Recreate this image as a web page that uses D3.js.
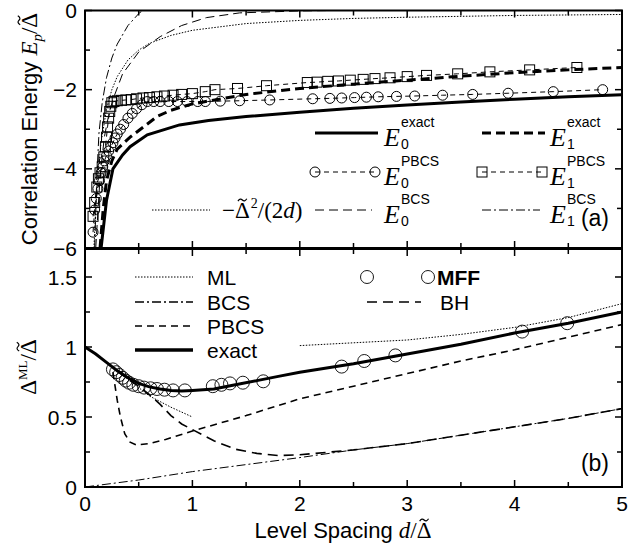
<!DOCTYPE html>
<html>
<head>
<meta charset="utf-8">
<script src="https://cdn.jsdelivr.net/npm/d3@7"></script>
<style>
  body { margin: 0; background: #fff; }
  svg { display: block; }
  text { font-family: "Liberation Sans", Arial, sans-serif; fill: #000; }
  .serif { font-family: "Liberation Serif", "Times New Roman", serif; }
</style>
</head>
<body>
<script>
// ---- panel (a): correlation energies, [d, E] pairs ----
var e0Exact = [[0.15,-6],[0.2,-4.8],[0.26,-4.0],[0.35,-3.65],[0.42,-3.44],[0.58,-3.14],[0.88,-2.89],[1.15,-2.78],[1.5,-2.68],[2.0,-2.57],[2.5,-2.47],[3.0,-2.39],[3.5,-2.31],[4.0,-2.24],[4.5,-2.18],[5.0,-2.13]];
var e1Exact = [[0.14,-6],[0.17,-5.0],[0.2,-4.3],[0.25,-3.8],[0.3,-3.5],[0.42,-3.2],[0.55,-2.93],[0.67,-2.68],[0.8,-2.52],[1.0,-2.36],[1.5,-2.12],[2.0,-1.97],[2.5,-1.86],[3.0,-1.76],[3.5,-1.66],[4.0,-1.57],[4.5,-1.5],[5.0,-1.44]];
var e0Pbcs = [[0.075,-5.6],[0.09,-5.04],[0.105,-4.75],[0.12,-4.5],[0.135,-4.3],[0.15,-4.1],[0.165,-3.95],[0.18,-3.8],[0.2,-3.67],[0.22,-3.55],[0.24,-3.44],[0.26,-3.34],[0.28,-3.22],[0.3,-3.12],[0.33,-3.0],[0.36,-2.88],[0.4,-2.72],[0.44,-2.6],[0.48,-2.48],[0.53,-2.38],[0.58,-2.3],[0.64,-2.3],[0.7,-2.3],[0.78,-2.3],[0.86,-2.3],[0.95,-2.3],[1.05,-2.3],[1.12,-2.3],[1.26,-2.29],[1.44,-2.28],[1.72,-2.26],[2.12,-2.23],[2.28,-2.22],[2.39,-2.21],[2.51,-2.2],[2.62,-2.19],[2.73,-2.18],[2.9,-2.17],[3.07,-2.16],[3.33,-2.14],[3.61,-2.12],[3.94,-2.09],[4.36,-2.05],[4.82,-2.0]];
var e1Pbcs = [[0.075,-5.2],[0.09,-4.85],[0.11,-4.46],[0.125,-4.25],[0.14,-4.1],[0.16,-3.95],[0.175,-3.7],[0.19,-3.44],[0.2,-3.2],[0.21,-2.94],[0.22,-2.72],[0.23,-2.55],[0.24,-2.42],[0.25,-2.33],[0.27,-2.3],[0.3,-2.28],[0.34,-2.27],[0.38,-2.26],[0.43,-2.25],[0.48,-2.23],[0.54,-2.21],[0.6,-2.2],[0.67,-2.18],[0.74,-2.16],[0.82,-2.14],[0.9,-2.12],[1.0,-2.1],[1.12,-2.05],[1.21,-2.0],[1.42,-1.97],[1.69,-1.9],[2.07,-1.82],[2.16,-1.81],[2.26,-1.79],[2.36,-1.78],[2.47,-1.76],[2.59,-1.74],[2.7,-1.72],[2.84,-1.7],[3.0,-1.67],[3.18,-1.64],[3.47,-1.6],[3.77,-1.55],[4.14,-1.5],[4.58,-1.44]];
var e0Bcs = [[0.1,-6],[0.14,-4.2],[0.18,-3.2],[0.22,-2.65],[0.26,-2.25],[0.35,-1.6],[0.5,-1.05],[0.7,-0.66],[0.9,-0.38],[1.13,-0.18],[1.44,-0.06],[2.0,-0.01],[2.3,0],[5.0,0]];
var e1Bcs = [[0.09,-6],[0.11,-4.2],[0.13,-3.1],[0.16,-2.33],[0.2,-1.7],[0.25,-1.2],[0.3,-0.85],[0.4,-0.38],[0.51,-0.05],[0.55,0],[5.0,0]];
var halfInvD = [[0.083,-6],[0.1,-5],[0.125,-4],[0.15,-3.33],[0.2,-2.5],[0.25,-2.0],[0.3,-1.67],[0.4,-1.25],[0.5,-1.0],[0.6,-0.83],[0.8,-0.63],[1.0,-0.5],[1.5,-0.33],[2.0,-0.25],[2.5,-0.2],[3.0,-0.17],[4.0,-0.125],[5.0,-0.1]];

// ---- panel (b): Delta^ML / Delta~, [d, value] pairs ----
var mlSmall = [[0,1.0],[0.1,0.95],[0.2,0.89],[0.3,0.83],[0.4,0.77],[0.5,0.71],[0.6,0.65],[0.7,0.61],[0.8,0.57],[0.9,0.535],[1.0,0.5]];
var mlLarge = [[2.0,1.01],[2.5,1.03],[3.0,1.05],[3.5,1.09],[4.0,1.14],[4.5,1.21],[5.0,1.31]];
var bcsLine = [[0,0],[0.5,0.05],[1.0,0.11],[1.5,0.16],[2.0,0.21],[2.5,0.265],[3.0,0.31],[3.5,0.37],[4.0,0.43],[4.5,0.49],[5.0,0.56]];
var pbcsLine = [[0.26,0.82],[0.28,0.72],[0.3,0.62],[0.33,0.5],[0.37,0.38],[0.42,0.32],[0.48,0.3],[0.6,0.31],[0.75,0.34],[1.0,0.4],[1.5,0.51],[2.0,0.63],[2.5,0.72],[3.0,0.81],[3.5,0.9],[4.0,0.98],[4.5,1.07],[5.0,1.16]];
var exactLine = [[0,1.0],[0.1,0.95],[0.2,0.89],[0.3,0.83],[0.4,0.78],[0.5,0.74],[0.6,0.715],[0.7,0.7],[0.8,0.69],[0.9,0.685],[1.0,0.69],[1.2,0.7],[1.4,0.73],[1.6,0.76],[1.8,0.79],[2.0,0.82],[2.5,0.88],[3.0,0.95],[3.5,1.02],[4.0,1.1],[4.5,1.17],[5.0,1.25]];
var bhLine = [[0.3,0.83],[0.4,0.77],[0.5,0.72],[0.6,0.66],[0.7,0.59],[0.8,0.51],[0.9,0.45],[1.0,0.41],[1.2,0.33],[1.4,0.27],[1.6,0.24],[1.8,0.225],[2.0,0.23],[2.5,0.265],[3.0,0.31],[3.5,0.37],[4.0,0.43],[4.5,0.49],[5.0,0.56]];
var mffPoints = [[0.26,0.84],[0.29,0.82],[0.32,0.8],[0.35,0.78],[0.38,0.76],[0.41,0.745],[0.45,0.73],[0.5,0.72],[0.55,0.71],[0.61,0.705],[0.67,0.7],[0.74,0.695],[0.82,0.69],[0.93,0.69],[1.19,0.72],[1.27,0.73],[1.35,0.74],[1.47,0.745],[1.66,0.755],[2.39,0.86],[2.6,0.9],[2.89,0.94],[4.07,1.11],[4.49,1.17]];

var xTicks = [0, 1, 2, 3, 4, 5];
var yTicksA = [0, -2, -4, -6];
var yTicksB = [0, 0.5, 1, 1.5];

var width = 628, height = 549;
var svg = d3.select("body").append("svg")
    .attr("width", width)
    .attr("height", height);

var x = d3.scaleLinear().domain([0, 5]).range([85, 622]);
var yA = d3.scaleLinear().domain([-6, 0]).range([248, 10.5]);
var yB = d3.scaleLinear().domain([0, 1.7]).range([487, 249]);

// clip each panel
var defs = svg.append("defs");
defs.append("clipPath").attr("id", "clipA").append("rect")
    .attr("x", 85).attr("y", 10.5).attr("width", 537).attr("height", 237.5);
defs.append("clipPath").attr("id", "clipB").append("rect")
    .attr("x", 85).attr("y", 249).attr("width", 537).attr("height", 238);

function lineFor(y) {
    return d3.line().x(function(p){ return x(p[0]); }).y(function(p){ return y(p[1]); });
}
var lineA = lineFor(yA), lineB = lineFor(yB);

var gA = svg.append("g").attr("clip-path", "url(#clipA)");
var gB = svg.append("g").attr("clip-path", "url(#clipB)");

function drawLine(g, gen, data, w, dash) {
    g.append("path").datum(data)
        .attr("d", gen)
        .attr("fill", "none")
        .attr("stroke", "#000")
        .attr("stroke-width", w)
        .attr("stroke-dasharray", dash || null);
}

// ---- panel (a) curves ----
drawLine(gA, lineA, halfInvD, 1, "1.5,1.5");
drawLine(gA, lineA, e0Bcs, 1, "9,5");
drawLine(gA, lineA, e1Bcs, 1, "9,3,2,3");
drawLine(gA, lineA, e0Pbcs, 1, "5,4");
drawLine(gA, lineA, e1Pbcs, 1, "5,4");
drawLine(gA, lineA, e0Exact, 3);
drawLine(gA, lineA, e1Exact, 3, "9,5");

gA.selectAll(".c0").data(e0Pbcs).enter().append("circle")
    .attr("cx", function(p){ return x(p[0]); })
    .attr("cy", function(p){ return yA(p[1]); })
    .attr("r", 5)
    .attr("fill", "none").attr("stroke", "#000").attr("stroke-width", 1);
gA.selectAll(".s1").data(e1Pbcs).enter().append("rect")
    .attr("x", function(p){ return x(p[0]) - 5; })
    .attr("y", function(p){ return yA(p[1]) - 5; })
    .attr("width", 10).attr("height", 10)
    .attr("fill", "none").attr("stroke", "#000").attr("stroke-width", 1);

// ---- panel (b) curves ----
drawLine(gB, lineB, mlSmall, 1, "1.5,1.5");
drawLine(gB, lineB, mlLarge, 1, "1.5,1.5");
drawLine(gB, lineB, bcsLine, 1, "9,3,2,3");
drawLine(gB, lineB, bhLine, 1.6, "10,6");
drawLine(gB, lineB, pbcsLine, 1.6, "7,5");
drawLine(gB, lineB, exactLine, 3);

gB.selectAll(".mff").data(mffPoints).enter().append("circle")
    .attr("cx", function(p){ return x(p[0]); })
    .attr("cy", function(p){ return yB(p[1]); })
    .attr("r", 6.5)
    .attr("fill", "none").attr("stroke", "#000").attr("stroke-width", 0.9);

// ---- frames and ticks ----
function frame(y) {
    var r = y.range();
    svg.append("rect")
        .attr("x", 85).attr("y", r[1]).attr("width", 537).attr("height", r[0] - r[1])
        .attr("fill", "none").attr("stroke", "#000").attr("stroke-width", 2);
}
frame(yA);
frame(yB);

var ticks = svg.append("g").attr("stroke", "#000").attr("stroke-width", 1.5);
d3.range(0, 5.01, 0.5).forEach(function(v) {
    var len = (v % 1 === 0) ? 7 : 5;
    [yA, yB].forEach(function(y) {
        var r = y.range();
        ticks.append("line").attr("x1", x(v)).attr("x2", x(v)).attr("y1", r[0]).attr("y2", r[0] - len);
        ticks.append("line").attr("x1", x(v)).attr("x2", x(v)).attr("y1", r[1]).attr("y2", r[1] + len);
    });
});
d3.range(-6, 0.01, 1).forEach(function(v) {
    var len = (v % 2 === 0) ? 7 : 5;
    ticks.append("line").attr("x1", 85).attr("x2", 85 + len).attr("y1", yA(v)).attr("y2", yA(v));
    ticks.append("line").attr("x1", 622).attr("x2", 622 - len).attr("y1", yA(v)).attr("y2", yA(v));
});
d3.range(0, 1.51, 0.25).forEach(function(v) {
    var len = (v % 0.5 === 0) ? 7 : 5;
    ticks.append("line").attr("x1", 85).attr("x2", 85 + len).attr("y1", yB(v)).attr("y2", yB(v));
    ticks.append("line").attr("x1", 622).attr("x2", 622 - len).attr("y1", yB(v)).attr("y2", yB(v));
});

// tick labels
var minus = function(v) { return String(v).replace("-", "\u2212"); };
svg.selectAll(".xl").data(xTicks).enter().append("text")
    .attr("x", function(v){ return x(v); })
    .attr("y", 511)
    .attr("text-anchor", "middle")
    .attr("font-size", 21)
    .text(function(v){ return v; });
svg.selectAll(".yla").data(yTicksA).enter().append("text")
    .attr("x", 77)
    .attr("y", function(v){ return yA(v) + 7.5; })
    .attr("text-anchor", "end")
    .attr("font-size", 21)
    .text(minus);
svg.selectAll(".ylb").data(yTicksB).enter().append("text")
    .attr("x", 77)
    .attr("y", function(v){ return yB(v) + 7.5; })
    .attr("text-anchor", "end")
    .attr("font-size", 21)
    .text(function(v){ return v; });

// draws a small tilde over the given character of a text element
function tilde(textSel, idx, fs) {
    var node = textSel.node();
    var e = node.getExtentOfChar(idx);
    var base = e.y + e.height * 0.805;
    var cx = e.x + e.width / 2, ty = base - 0.68 * fs - 2.5;
    var w = e.width * 0.6;
    d3.select(node.parentNode).append("path")
        .attr("transform", textSel.attr("transform"))
        .attr("d", "M" + (cx - w / 2) + "," + (ty + 1.2) + " Q" + (cx - w / 4) + "," + (ty - 2.4) + " " + cx + "," + ty +
                   " T" + (cx + w / 2) + "," + (ty - 1.2))
        .attr("fill", "none").attr("stroke", "#000").attr("stroke-width", 1.2);
}
function lastDelta(sel) { return sel.node().textContent.lastIndexOf("\u0394"); }

// axis titles
var xt = svg.append("text").attr("x", 343).attr("y", 538).attr("text-anchor", "middle").attr("font-size", 22);
xt.append("tspan").text("Level Spacing ");
xt.append("tspan").attr("class", "serif").attr("font-style", "italic").attr("font-size", 23).text("d");
xt.append("tspan").attr("class", "serif").attr("font-size", 23).text("/\u0394");
tilde(xt, lastDelta(xt), 23);

var yta = svg.append("text").attr("transform", "translate(37,129) rotate(-90)").attr("text-anchor", "middle").attr("font-size", 22);
yta.append("tspan").text("Correlation Energy ");
yta.append("tspan").attr("class", "serif").attr("font-style", "italic").attr("font-size", 23).text("E");
yta.append("tspan").attr("class", "serif").attr("font-style", "italic").attr("font-size", 15).attr("dy", 5).text("p");
yta.append("tspan").attr("class", "serif").attr("font-size", 23).attr("dy", -5).text("/\u0394");
tilde(yta, lastDelta(yta), 23);

var ytb = svg.append("text").attr("transform", "translate(36,367) rotate(-90)").attr("text-anchor", "middle").attr("font-size", 23).attr("class", "serif");
ytb.append("tspan").text("\u0394");
ytb.append("tspan").attr("font-size", 13).attr("dy", -9).text("ML");
ytb.append("tspan").attr("dy", 9).text("/\u0394");
tilde(ytb, lastDelta(ytb), 23);

// panel tags
svg.append("text").attr("x", 609).attr("y", 226).attr("text-anchor", "end").attr("font-size", 23).text("(a)");
svg.append("text").attr("x", 609).attr("y", 471).attr("text-anchor", "end").attr("font-size", 23).text("(b)");

// ---- legend (a) ----
var leg = svg.append("g");
function legLine(x1, x2, y, w, dash) {
    leg.append("line").attr("x1", x1).attr("x2", x2).attr("y1", y).attr("y2", y)
        .attr("stroke", "#000").attr("stroke-width", w).attr("stroke-dasharray", dash || null);
}
function eLabel(xp, y, sub, sup) {
    leg.append("text").attr("x", xp).attr("y", y + 13).attr("class", "serif")
        .attr("font-style", "italic").attr("font-size", 26).text("E");
    leg.append("text").attr("x", xp + 17).attr("y", y - 6).attr("font-size", 14).text(sup);
    leg.append("text").attr("x", xp + 17).attr("y", y + 16).attr("font-size", 14).text(sub);
}
legLine(315, 378, 133, 3);
eLabel(384, 133, "0", "exact");
legLine(482, 545, 133, 3, "9,5");
eLabel(550, 133, "1", "exact");

legLine(315, 375, 172, 1, "5,4");
[315, 375].forEach(function(cx) {
    leg.append("circle").attr("cx", cx).attr("cy", 172).attr("r", 5).attr("fill", "none").attr("stroke", "#000");
});
eLabel(384, 172, "0", "PBCS");
legLine(482, 542, 172, 1, "5,4");
[482, 542].forEach(function(cx) {
    leg.append("rect").attr("x", cx - 5).attr("y", 167).attr("width", 10).attr("height", 10).attr("fill", "none").attr("stroke", "#000");
});
eLabel(550, 172, "1", "PBCS");

legLine(152, 210, 210, 1, "1.5,1.5");
var hl = leg.append("text").attr("x", 222).attr("y", 218).attr("font-size", 23).attr("class", "serif");
hl.append("tspan").text("\u2212\u0394");
hl.append("tspan").attr("font-size", 14).attr("dy", -10).attr("dx", 1).text("2");
hl.append("tspan").attr("dy", 10).text("/(2");
hl.append("tspan").attr("font-style", "italic").text("d");
hl.append("tspan").text(")");
tilde(hl, hl.node().textContent.indexOf("\u0394"), 23);
legLine(315, 372, 210, 1, "9,5");
eLabel(384, 210, "0", "BCS");
legLine(482, 540, 210, 1, "9,3,2,3");
eLabel(550, 210, "1", "BCS");

// ---- legend (b) ----
var legB = [
    { label: "ML", y: 277, w: 1, dash: "1.5,1.5" },
    { label: "BCS", y: 302, w: 1.6, dash: "9,3,2,3" },
    { label: "PBCS", y: 326, w: 1.6, dash: "7,5" },
    { label: "exact", y: 350, w: 3.5, dash: null }
];
legB.forEach(function(it) {
    legLine(135, 193, it.y, it.w, it.dash);
    leg.append("text").attr("x", 207).attr("y", it.y + 8).attr("font-size", 21).text(it.label);
});
[367, 428].forEach(function(cx) {
    leg.append("circle").attr("cx", cx).attr("cy", 277).attr("r", 6.5).attr("fill", "none").attr("stroke", "#000").attr("stroke-width", 0.9);
});
leg.append("text").attr("x", 437).attr("y", 285).attr("font-size", 21).attr("font-weight", "bold").text("MFF");
legLine(367, 421, 302, 1.6, "10,6");
leg.append("text").attr("x", 440).attr("y", 310).attr("font-size", 21).text("BH");
</script>
</body>
</html>
